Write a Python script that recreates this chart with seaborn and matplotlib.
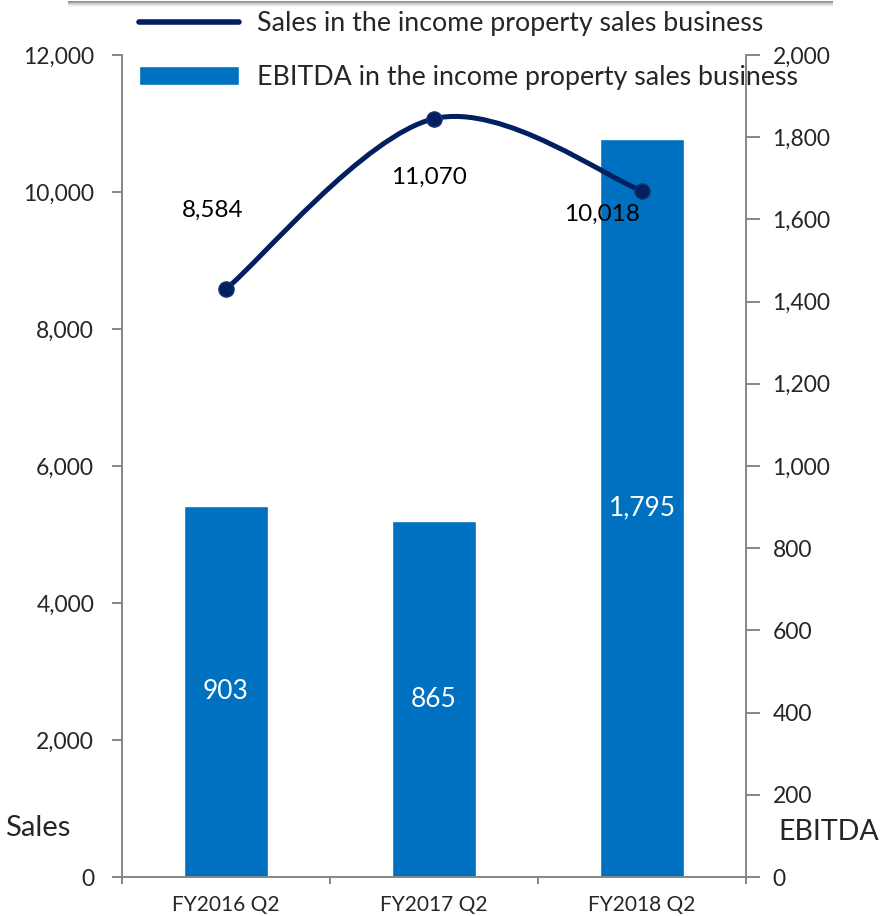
import matplotlib
matplotlib.use("Agg")
import matplotlib.pyplot as plt
from matplotlib.lines import Line2D
from matplotlib.patches import PathPatch, Rectangle
from matplotlib.path import Path
from matplotlib.ticker import FuncFormatter, FixedLocator
import numpy as np
import seaborn as sns

# data
quarters = ["FY2016 Q2", "FY2017 Q2", "FY2018 Q2"]
sales = [8584, 11070, 10018]
ebitda = [903, 865, 1795]
sales_ticks = [0, 2000, 4000, 6000, 8000, 10000, 12000]
ebitda_ticks = [0, 200, 400, 600, 800, 1000, 1200, 1400, 1600, 1800, 2000]
label_offsets = [(-13, 79), (-5, -59), (-40, -24)]  # pixel offsets for sales labels

BAR = "#0070C0"
NAVY = "#002060"
GRID = "#868686"

sns.set_style("white")
plt.rcParams["font.family"] = ["Lato", "DejaVu Sans"]


def smooth_path(xs, ys):
    # excel-like smoothed line: cubic bezier with catmull-rom style control points
    pts = np.column_stack([xs, ys]).astype(float)
    n = len(pts)
    verts = [pts[0]]
    codes = [Path.MOVETO]
    for i in range(n - 1):
        p_prev = pts[max(i - 1, 0)]
        p0, p1 = pts[i], pts[i + 1]
        p_next = pts[min(i + 2, n - 1)]
        c1 = p0 + (p1 - p_prev) / 6.0
        c2 = p1 - (p_next - p0) / 6.0
        verts += [c1, c2, p1]
        codes += [Path.CURVE4] * 3
    return Path(verts, codes)


fig = plt.figure(figsize=(8.81, 9.16), dpi=100)
ax = fig.add_axes([122 / 881, 1 - 877 / 916, (746 - 122) / 881, (877 - 55) / 916])
ax2 = ax.twinx()

# EBITDA bars on the right axis
sns.barplot(x=quarters, y=ebitda, ax=ax2, color=BAR, width=0.4, saturation=1, zorder=2)
ax2.bar_label(ax2.containers[0], labels=[f"{v:,}" for v in ebitda],
              label_type="center", color="white", fontsize=19)

# Sales line on the left axis (drawn above the bars)
xs = np.arange(len(quarters))
ax.add_patch(PathPatch(smooth_path(xs, sales), facecolor="none", edgecolor=NAVY,
                       lw=3.6, capstyle="round", zorder=3))
sns.scatterplot(x=xs, y=sales, ax=ax, color=NAVY, s=120, edgecolor="#1a3570",
                linewidth=1, zorder=4)
for x, y, (dx, dy) in zip(xs, sales, label_offsets):
    ax.annotate(f"{y:,}", (x, y), xytext=(dx, dy), textcoords="offset pixels",
                ha="center", va="center", fontsize=17.5, color="black", zorder=5)

ax.set_zorder(ax2.get_zorder() + 1)
ax.patch.set_visible(False)

ax.set_xlim(-0.5, 2.5)
ax.set_ylim(0, 12000)
ax2.set_ylim(0, 2000)
ax.set_yticks(sales_ticks)
ax2.set_yticks(ebitda_ticks)
fmt = FuncFormatter(lambda v, p: f"{v:,.0f}")
ax.yaxis.set_major_formatter(fmt)
ax2.yaxis.set_major_formatter(fmt)
ax.set_xticks(xs)
ax.set_xticklabels(quarters)
ax.xaxis.set_minor_locator(FixedLocator([-0.5, 0.5, 1.5, 2.5]))
ax.set_xlabel("")
ax.set_ylabel("")
ax2.set_ylabel("")

for a in (ax, ax2):
    for s in a.spines.values():
        s.set_visible(False)
ax.spines["left"].set_visible(True)
ax.spines["bottom"].set_visible(True)
ax2.spines["right"].set_visible(True)
for s in (ax.spines["left"], ax.spines["bottom"], ax2.spines["right"]):
    s.set_color(GRID)
    s.set_linewidth(1.4)

ax.tick_params(axis="y", direction="out", length=7, width=1.4, color=GRID,
               pad=13, labelsize=16.5, left=True)
ax2.tick_params(axis="y", direction="out", length=10, width=1.4, color=GRID,
                pad=9, labelsize=16.5, right=True)
ax.tick_params(axis="x", which="major", length=0, pad=13, labelsize=15)
ax.tick_params(axis="x", which="minor", direction="out", length=5, width=1.4,
               color=GRID, bottom=True)

fig.text(5 / 881, 1 - 828 / 916, "Sales", fontsize=21, ha="left", va="center")
fig.text(778 / 881, 1 - 832 / 916, "EBITDA", fontsize=20.5, ha="left", va="center")

# legend
handles = [Line2D([], [], color=NAVY, lw=4),
           ax2.containers[0].patches[0]]
labels = ["Sales in the income property sales business",
          "EBITDA in the income property sales business"]
fig.legend(handles, labels, loc="upper left", bbox_to_anchor=(128 / 881, 1 - 0.5 / 916),
           frameon=False, fontsize=19.3, handlelength=3.75, handletextpad=0.68,
           labelspacing=1.08, borderaxespad=0)

# bottom edge of the box above the chart, with a soft shadow
for i, a in enumerate([0.8, 0.6, 0.4, 0.25, 0.12, 0.05]):
    fig.add_artist(Rectangle((68 / 881, 1 - (2 + i) / 916), (833 - 68) / 881, 1 / 916,
                             transform=fig.transFigure, color="#707070", alpha=a,
                             lw=0))

fig.savefig("out.png", dpi=100)
